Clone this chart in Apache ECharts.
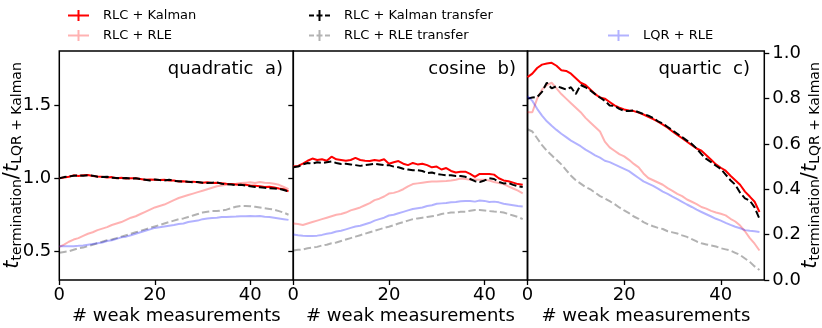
<!DOCTYPE html>
<html>
<head>
<meta charset="utf-8">
<script src="https://cdn.jsdelivr.net/npm/echarts@6/dist/echarts.min.js"></script>
<style>
  html, body { margin: 0; padding: 0; background: #fff; }
  #chart { width: 822px; height: 328px; }
</style>
</head>
<body>
<div id="chart"></div>
<script>
const FONT = 'DejaVu Sans';

const panelTitles = ['quadratic  a)', 'cosine  b)', 'quartic  c)'];
const seriesNames = ['RLC + Kalman', 'RLC + RLE', 'RLC + Kalman transfer', 'RLC + RLE transfer', 'LQR + RLE'];
const xTicks = [0, 20, 40];
const yTicksLeft = [0.5, 1.0, 1.5];
const yTicksRight = [0.0, 0.2, 0.4, 0.6, 0.8, 1.0];

// quadratic a)
const quadKalman = [1.00, 1.005, 1.01, 1.02, 1.015, 1.02, 1.022, 1.015, 1.012, 1.01, 1.005, 1.008, 1.0, 1.003, 0.998, 1.0, 1.0, 0.995, 0.99, 0.992, 0.99, 0.988, 0.99, 0.985, 0.984, 0.978, 0.98, 0.975, 0.977, 0.972, 0.97, 0.972, 0.968, 0.97, 0.966, 0.962, 0.96, 0.958, 0.955, 0.956, 0.95, 0.948, 0.945, 0.94, 0.942, 0.937, 0.93, 0.925, 0.91];
const quadRle = [0.53, 0.545, 0.565, 0.58, 0.59, 0.605, 0.62, 0.63, 0.645, 0.655, 0.665, 0.68, 0.69, 0.70, 0.715, 0.73, 0.74, 0.755, 0.77, 0.785, 0.80, 0.81, 0.82, 0.835, 0.85, 0.865, 0.875, 0.885, 0.895, 0.905, 0.915, 0.925, 0.935, 0.945, 0.95, 0.955, 0.96, 0.962, 0.968, 0.97, 0.972, 0.968, 0.975, 0.97, 0.968, 0.962, 0.955, 0.94, 0.925];
const quadKalmanTr = [1.0, 1.008, 1.012, 1.018, 1.02, 1.018, 1.02, 1.018, 1.01, 1.008, 1.01, 1.004, 1.002, 1.0, 1.002, 0.998, 1.0, 0.994, 0.99, 0.985, 0.992, 0.988, 0.985, 0.99, 0.982, 0.98, 0.978, 0.976, 0.972, 0.975, 0.97, 0.968, 0.97, 0.972, 0.962, 0.96, 0.958, 0.952, 0.955, 0.95, 0.945, 0.94, 0.938, 0.935, 0.932, 0.93, 0.928, 0.92, 0.91];
const quadRleTr = [0.49, 0.495, 0.50, 0.51, 0.52, 0.525, 0.535, 0.545, 0.555, 0.565, 0.575, 0.58, 0.59, 0.60, 0.61, 0.62, 0.63, 0.64, 0.65, 0.66, 0.67, 0.68, 0.69, 0.70, 0.71, 0.72, 0.725, 0.735, 0.745, 0.755, 0.765, 0.77, 0.775, 0.775, 0.78, 0.785, 0.795, 0.805, 0.81, 0.81, 0.808, 0.805, 0.80, 0.795, 0.79, 0.785, 0.775, 0.765, 0.75];
const quadLqr = [0.535, 0.535, 0.535, 0.535, 0.537, 0.54, 0.545, 0.55, 0.555, 0.56, 0.57, 0.575, 0.585, 0.595, 0.60, 0.61, 0.62, 0.63, 0.64, 0.65, 0.66, 0.665, 0.67, 0.675, 0.68, 0.687, 0.69, 0.70, 0.705, 0.71, 0.72, 0.725, 0.728, 0.73, 0.735, 0.735, 0.737, 0.738, 0.74, 0.74, 0.742, 0.74, 0.742, 0.737, 0.735, 0.73, 0.725, 0.72, 0.715];

// cosine b)
const cosKalman = [1.08, 1.085, 1.10, 1.12, 1.135, 1.125, 1.13, 1.12, 1.148, 1.13, 1.125, 1.12, 1.125, 1.14, 1.125, 1.12, 1.118, 1.125, 1.12, 1.13, 1.10, 1.11, 1.118, 1.10, 1.09, 1.105, 1.095, 1.10, 1.09, 1.075, 1.08, 1.06, 1.07, 1.05, 1.04, 1.045, 1.045, 1.03, 1.01, 1.03, 1.03, 1.03, 1.025, 1.0, 0.985, 0.98, 0.97, 0.96, 0.955];
const cosRle = [0.69, 0.687, 0.68, 0.69, 0.70, 0.71, 0.72, 0.73, 0.74, 0.75, 0.755, 0.765, 0.78, 0.79, 0.80, 0.815, 0.83, 0.85, 0.86, 0.875, 0.895, 0.90, 0.91, 0.925, 0.945, 0.96, 0.965, 0.97, 0.975, 0.978, 0.978, 0.98, 0.982, 0.985, 0.99, 0.998, 0.995, 0.99, 0.992, 0.99, 0.99, 0.985, 0.975, 0.968, 0.96, 0.945, 0.93, 0.915, 0.897];
const cosKalmanTr = [1.075, 1.08, 1.095, 1.105, 1.10, 1.11, 1.105, 1.11, 1.115, 1.105, 1.098, 1.10, 1.095, 1.09, 1.085, 1.09, 1.095, 1.10, 1.095, 1.09, 1.09, 1.08, 1.075, 1.065, 1.06, 1.055, 1.055, 1.05, 1.035, 1.04, 1.03, 1.025, 1.02, 1.02, 1.015, 1.015, 1.01, 0.995, 0.98, 0.975, 0.985, 1.0, 0.995, 0.975, 0.965, 0.968, 0.955, 0.945, 0.94];
const cosRleTr = [0.505, 0.51, 0.512, 0.52, 0.525, 0.53, 0.54, 0.545, 0.555, 0.56, 0.57, 0.58, 0.59, 0.60, 0.61, 0.62, 0.63, 0.64, 0.65, 0.66, 0.668, 0.678, 0.69, 0.70, 0.71, 0.72, 0.725, 0.73, 0.735, 0.74, 0.745, 0.755, 0.76, 0.765, 0.765, 0.77, 0.77, 0.778, 0.783, 0.783, 0.78, 0.775, 0.772, 0.77, 0.765, 0.755, 0.745, 0.735, 0.72];
const cosLqr = [0.615, 0.61, 0.607, 0.605, 0.605, 0.607, 0.612, 0.62, 0.625, 0.635, 0.64, 0.65, 0.66, 0.67, 0.675, 0.685, 0.695, 0.71, 0.72, 0.73, 0.745, 0.75, 0.76, 0.77, 0.78, 0.79, 0.795, 0.80, 0.81, 0.815, 0.825, 0.828, 0.83, 0.835, 0.838, 0.842, 0.845, 0.845, 0.84, 0.847, 0.845, 0.838, 0.84, 0.835, 0.825, 0.82, 0.815, 0.81, 0.806];

// quartic c)
const quartKalman = [0.895, 0.91, 0.935, 0.95, 0.955, 0.958, 0.945, 0.925, 0.922, 0.91, 0.89, 0.87, 0.86, 0.84, 0.82, 0.805, 0.80, 0.785, 0.77, 0.76, 0.752, 0.748, 0.745, 0.738, 0.73, 0.72, 0.71, 0.698, 0.685, 0.672, 0.655, 0.64, 0.625, 0.61, 0.595, 0.58, 0.57, 0.55, 0.53, 0.51, 0.495, 0.482, 0.46, 0.44, 0.42, 0.39, 0.368, 0.345, 0.30];
const quartRle = [0.74, 0.74, 0.80, 0.84, 0.86, 0.87, 0.845, 0.82, 0.80, 0.78, 0.76, 0.74, 0.715, 0.695, 0.675, 0.655, 0.61, 0.585, 0.57, 0.555, 0.545, 0.53, 0.512, 0.497, 0.47, 0.45, 0.44, 0.43, 0.42, 0.405, 0.393, 0.38, 0.37, 0.355, 0.345, 0.335, 0.322, 0.315, 0.305, 0.298, 0.292, 0.285, 0.27, 0.258, 0.24, 0.215, 0.185, 0.16, 0.13];
const quartKalmanTr = [0.80, 0.805, 0.807, 0.83, 0.87, 0.845, 0.855, 0.848, 0.84, 0.85, 0.82, 0.86, 0.85, 0.836, 0.82, 0.805, 0.79, 0.77, 0.768, 0.755, 0.746, 0.745, 0.748, 0.74, 0.732, 0.725, 0.715, 0.70, 0.69, 0.675, 0.66, 0.645, 0.63, 0.615, 0.60, 0.58, 0.555, 0.534, 0.52, 0.504, 0.49, 0.465, 0.44, 0.42, 0.385, 0.36, 0.35, 0.32, 0.27];
const quartRleTr = [0.665, 0.655, 0.625, 0.595, 0.57, 0.55, 0.53, 0.51, 0.485, 0.46, 0.44, 0.425, 0.41, 0.40, 0.385, 0.37, 0.36, 0.348, 0.335, 0.32, 0.307, 0.295, 0.28, 0.27, 0.255, 0.245, 0.237, 0.23, 0.225, 0.215, 0.21, 0.205, 0.197, 0.19, 0.18, 0.17, 0.162, 0.157, 0.152, 0.148, 0.14, 0.135, 0.13, 0.12, 0.11, 0.095, 0.08, 0.06, 0.044];
const quartLqr = [0.81, 0.79, 0.755, 0.725, 0.70, 0.68, 0.662, 0.645, 0.63, 0.615, 0.603, 0.59, 0.575, 0.563, 0.55, 0.54, 0.526, 0.52, 0.51, 0.50, 0.49, 0.48, 0.465, 0.45, 0.435, 0.425, 0.415, 0.403, 0.39, 0.38, 0.368, 0.357, 0.345, 0.333, 0.322, 0.31, 0.30, 0.29, 0.28, 0.27, 0.262, 0.252, 0.243, 0.235, 0.228, 0.22, 0.217, 0.215, 0.212];

const panels = [
  [quadKalman, quadRle, quadKalmanTr, quadRleTr, quadLqr],
  [cosKalman, cosRle, cosKalmanTr, cosRleTr, cosLqr],
  [quartKalman, quartRle, quartKalmanTr, quartRleTr, quartLqr]
];

const styles = [
  { color: '#ff0000', type: 'solid' },
  { color: 'rgba(255,0,0,0.3)', type: 'solid' },
  { color: '#000000', type: [7.4, 3.2] },
  { color: 'rgba(0,0,0,0.3)', type: [7.4, 3.2] },
  { color: 'rgba(0,0,255,0.3)', type: 'solid' }
];

// legend glyphs: line with errorbar cross
const solidIcon = 'path://M0,4.5H21V6.5H0Z M9.5,0H11.5V11H9.5Z';
const dashIcon = 'path://M0,4.5H5V6.5H0Z M7.5,4.5H13.5V6.5H7.5Z M9.5,0H11.5V11H9.5Z M16,4.5H21V6.5H16Z';

const grids = [
  { left: 59.3, top: 51, width: 234, height: 229 },
  { left: 293.3, top: 51, width: 234.2, height: 229 },
  { left: 527.5, top: 51, width: 236.8, height: 229 }
].map(g => Object.assign(g, {
  show: true, borderColor: '#000', borderWidth: 1.5, backgroundColor: 'transparent',
  containLabel: false, outerBoundsMode: 'none'
}));

const tickStyle = { show: true, inside: false, length: 5, lineStyle: { color: '#000', width: 1.3 } };
const labelStyle = { color: '#000', fontSize: 18, fontFamily: FONT };

const nameRich = {
  t: { fontSize: 21, fontStyle: 'italic', fontFamily: FONT, color: '#000' },
  n: { fontSize: 21, fontFamily: FONT, color: '#000' },
  s: { fontSize: 14, fontFamily: FONT, color: '#000', padding: [10, 0, 0, 0] }
};
const yName = '{t|t}{s|termination}{n|/}{t|t}{s|LQR + Kalman}';

const xAxes = grids.map((g, i) => ({
  type: 'value', gridIndex: i, min: 0, max: 49,
  axisLine: { show: false },
  splitLine: { show: false },
  axisTick: Object.assign({ customValues: xTicks }, tickStyle),
  axisLabel: Object.assign({ customValues: xTicks, margin: 6 }, labelStyle),
  name: '# weak measurements', nameLocation: 'middle', nameGap: 27,
  nameMoveOverlap: false,
  nameTextStyle: labelStyle
}));

const leftY = (i, withLabels) => ({
  type: 'value', gridIndex: i, position: 'left', min: 0.303, max: 1.872,
  axisLine: { show: false },
  splitLine: { show: false },
  axisTick: Object.assign({ customValues: yTicksLeft }, tickStyle),
  axisLabel: Object.assign({ show: withLabels, customValues: yTicksLeft, margin: 8,
    formatter: v => v.toFixed(1) }, labelStyle)
});

const yAxes = [
  Object.assign(leftY(0, true), {
    name: yName, nameLocation: 'middle', nameRotate: 90, nameGap: 35,
    nameMoveOverlap: false,
    nameTextStyle: { rich: nameRich }
  }),
  leftY(1, false),
  leftY(2, false),
  {
    type: 'value', gridIndex: 2, position: 'right', min: 0, max: 1.01,
    axisLine: { show: false },
    splitLine: { show: false },
    axisTick: Object.assign({ customValues: yTicksRight }, tickStyle),
    axisLabel: Object.assign({ customValues: yTicksRight, margin: 8,
      formatter: v => v.toFixed(1) }, labelStyle),
    name: yName, nameLocation: 'middle', nameRotate: 90, nameGap: 34,
    nameMoveOverlap: false,
    nameTextStyle: { rich: nameRich }
  }
];

const series = [];
panels.forEach((vals, p) => {
  vals.forEach((arr, k) => {
    series.push({
      name: seriesNames[k],
      type: 'line',
      xAxisIndex: p,
      yAxisIndex: p === 2 ? 3 : p,
      data: arr.map((v, i) => [i, v]),
      symbol: 'none',
      showSymbol: false,
      silent: true,
      animation: false,
      itemStyle: { color: styles[k].color },
      lineStyle: { color: styles[k].color, width: 2, type: styles[k].type }
    });
  });
});

const legendBase = {
  orient: 'vertical', top: 4, itemWidth: 21, itemHeight: 11, itemGap: 7,
  selectedMode: false,
  textStyle: { color: '#000', fontSize: 13, fontFamily: FONT, padding: [0, 0, 0, 9] }
};
const legends = [
  Object.assign({ left: 63, data: [
    { name: seriesNames[0], icon: solidIcon },
    { name: seriesNames[1], icon: solidIcon }
  ] }, legendBase),
  Object.assign({ left: 304, data: [
    { name: seriesNames[2], icon: dashIcon },
    { name: seriesNames[3], icon: dashIcon }
  ] }, legendBase),
  Object.assign({ left: 603, data: [
    { name: seriesNames[4], icon: solidIcon }
  ] }, legendBase, { top: 24 })
];

const titleRight = [539, 306, 72];
const titles = panelTitles.map((t, i) => ({
  text: t, right: titleRight[i], top: 60, padding: 0,
  textStyle: { fontSize: 18, fontWeight: 'normal', fontFamily: FONT, color: '#000' }
}));

const chart = echarts.init(document.getElementById('chart'), null, { renderer: 'canvas' });
chart.setOption({
  animation: false,
  backgroundColor: '#fff',
  textStyle: { fontFamily: FONT },
  title: titles,
  legend: legends,
  grid: grids,
  xAxis: xAxes,
  yAxis: yAxes,
  series: series
});
</script>
</body>
</html>
